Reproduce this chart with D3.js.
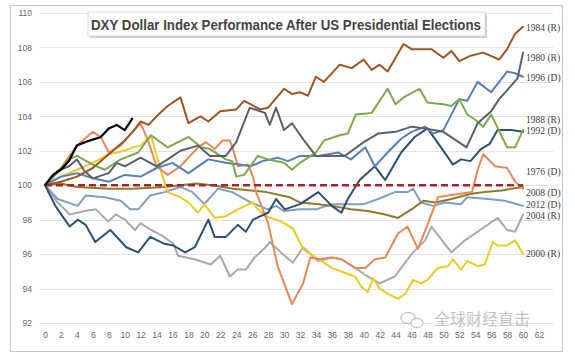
<!DOCTYPE html>
<html><head><meta charset="utf-8">
<script src="https://cdn.jsdelivr.net/npm/d3@7"></script>
<style>body{margin:0;background:#fff;overflow:hidden}</style>
</head><body>
<svg id="c" width="575" height="359"></svg>
<script>
const titleText = "DXY Dollar Index Performance After US Presidential Elections";
const xTicks = [0,2,4,6,8,10,12,14,16,18,20,22,24,26,28,30,32,34,36,38,40,42,44,46,48,50,52,54,56,58,60,62];
const yTicks = [92,94,96,98,100,102,104,106,108,110];
const baseline = 100;

const s1976 = [[0,100],[2,101],[4,102.3],[6,103.1],[7,102.8],[8,101.9],[9.5,102.3],[11,103.1],[12,103.6],[13,102.5],[14,101.1],[15.4,100.6],[17,101.1],[19.2,102.2],[20.2,102.5],[21.3,102.1],[22.3,102.6],[23.2,102.6],[23.6,102.1],[24.2,101.1],[25.5,101.2],[26.1,100.5],[26.5,99.6],[28,97.8],[29.2,95.3],[31,93.1],[32.4,94.3],[33.3,95.8],[34.3,95.7],[36,95.8],[37.2,95.7],[38.9,95.2],[40.2,95.2],[41.4,95.7],[42.7,95.8],[44.3,97.2],[45.5,97.6],[46.8,96.3],[48,97.7],[49.3,99.3],[50.6,99.4],[53.6,99.6],[54.3,100.9],[55,101.8],[56.5,101.1],[58,101],[59,100.2],[60,99.8]];
const s1980 = [[0,100],[1.5,100.8],[3,101.1],[4,101.5],[5,100.8],[6,100.4],[8,100.7],[9,101.3],[10,101.1],[12,101.6],[14,101.1],[15.4,101.5],[17,102],[19.2,102.3],[20.7,101.7],[22.7,101.7],[24,102.5],[25.7,104.5],[27.6,104.2],[28.2,103.5],[29,104.5],[30,103.2],[31,103.6],[32.5,102.6],[34,101.7],[36,101.7],[37.6,101.7],[40,102.5],[41.8,103],[44,103.1],[46,103.4],[47.7,103.3],[50,103.1],[52.9,102.2],[54.3,103.6],[56,104.3],[57,105],[59.3,106.2],[60,107.7]];
const s1984 = [[0,100],[2,100.2],[4,100.5],[6,101],[8,101.8],[10,102.6],[11,103.1],[12,103.7],[13,103.5],[14,104],[15.4,104.6],[17,105.1],[18,103.6],[19.5,104],[20.5,103.7],[22,104.3],[24,104.4],[25,104.9],[27,104.4],[28,104.5],[30,105.6],[31,105.3],[32,105.4],[33,105.2],[34,106.3],[35,106],[37,107],[38.5,106.8],[40,107.3],[41,106.7],[42,107],[43,106.6],[45,108.2],[46,107.9],[48.5,107.9],[50,107.4],[51,107.8],[52,107.2],[53.3,107.5],[55,107.7],[57,107.3],[58,107.9],[59,108.8],[60,109.2]];
const s1988 = [[0,100],[1.3,100.6],[3,101.5],[4,101.7],[6,101.2],[7.5,100.9],[9.5,101.5],[11.7,101.9],[13.3,102.9],[15.4,102.2],[18,102.8],[19.6,102.2],[20.7,102.1],[22.7,101.5],[23.5,101.4],[24,100.5],[25,100.6],[26.7,101.7],[28,101.5],[30,101.3],[31,100.9],[32,101.3],[34,101.9],[35,102.6],[37,102.9],[38,103],[39,104.1],[41,104.2],[43,105.6],[44,104.7],[45,105.1],[47,105.6],[48,104.8],[50,104.7],[51,104.6],[52,105],[53,104.1],[54,103.8],[55,103.4],[56,104.1],[58,102.2],[59,102.2],[60,103.2]];
const s1992 = [[0,100],[1.3,98.8],[3.1,97.6],[4.1,98],[5.1,97.7],[6.3,96.7],[8.2,97.4],[10.2,96.4],[11.7,96.1],[13.2,97],[15,96.6],[16.1,96.5],[17.6,96.1],[18.8,96.4],[20.5,98],[21.3,97],[22.7,97],[24.2,97.7],[25.2,97.3],[26.1,98],[28,98.4],[29,99.2],[30.1,98.6],[32,98.9],[34.3,99.6],[36,98.8],[37.2,98.4],[38,99.2],[39.5,100.3],[41.4,101.1],[42.7,100.3],[44.7,101.9],[46.4,102.8],[48,103.3],[49.7,102.2],[51.2,101.2],[52.2,101.5],[53.4,101.4],[54.7,102.1],[55.8,102.4],[56.8,103.2],[58.5,103.2],[60,103.1]];
const s1996 = [[0,100],[2,100.5],[4,100.7],[6,100.4],[8,100.2],[10,100.6],[12,100.5],[14,101],[16,101.3],[18,100.7],[20.5,101.5],[22.7,101.3],[24.5,101.2],[25.8,101.1],[27.3,101.4],[29.2,101.6],[30.5,101.4],[32,101.7],[34.3,101.7],[36.8,101.9],[38.4,101.5],[40.2,102.2],[41.4,101.1],[43,101.9],[44.7,102.7],[46,103.1],[47.7,103.4],[48.7,103],[50,103.2],[52,105],[53,104.9],[54.3,106],[56,105.4],[58,106.6],[59,106.5],[60,106.3]];
const s2000 = [[0,100],[2,100.5],[4,100.9],[6,101.3],[8,101.8],[10,102],[11,102.2],[12,102.3],[13.3,102.9],[14.5,100.9],[15.4,99.6],[17,99.3],[18,99],[19.2,98.4],[20,98.9],[21.3,98.1],[22.7,98.2],[24.2,98.6],[26.1,99],[26.7,98.6],[27.7,98.2],[29.6,97.9],[31.1,97.5],[32.4,96.3],[33,96.1],[34.3,95.7],[36,95.2],[37.7,94.9],[38.9,94.7],[39.7,94.1],[40.5,93.8],[41.2,94.6],[42,94],[43,93.7],[44.3,93.4],[45.2,93.7],[46.2,94.5],[47.2,94.3],[48,94.5],[49.3,95.2],[50.6,95.3],[51.2,95.7],[52.2,95.1],[53,95.6],[54.3,95.3],[55.2,95.4],[56.2,96.7],[56.8,96.5],[58,96.5],[59,96.8],[60,96]];
const s2004 = [[0,100],[1.4,99.1],[3.1,98.3],[5,98.5],[6.4,98.6],[7.9,97.9],[8.9,98.3],[10,98],[11.3,97.4],[12,97.8],[13.3,97.4],[14.6,97.1],[16.1,96.6],[16.7,95.9],[18.8,95.7],[20.8,95.4],[22,95.9],[23.2,94.7],[24.2,95.1],[25.2,95.1],[26.3,95.8],[27.7,96.4],[28.2,96.7],[29.6,96.1],[31.1,95.5],[32.4,96.4],[34.3,95.6],[36,95.8],[37.2,95.7],[38.9,95.2],[40.2,94.8],[42,94.3],[43.9,94.7],[45.2,95.5],[46.2,96.1],[47.7,96.8],[48.5,97.6],[51,96.1],[52.7,96.8],[54.3,97.3],[56.8,98.1],[58,97.4],[59,97.3],[60,98.3]];
const s2008 = [[0,100],[2,100.1],[4,99.9],[8,99.8],[11,99.8],[15,99.9],[19,100.1],[21,100],[23.6,99.8],[27.8,99.6],[30.7,99.3],[32,99],[34.3,98.9],[36,98.8],[38.4,98.6],[40.5,98.5],[42.7,98.3],[44.3,98.1],[46,98.6],[47.5,99.1],[49,99],[51,99.2],[53.5,99.5],[55.2,99.6],[57.3,99.7],[60,99.9]];
const s2012 = [[0,100],[1.6,99.2],[4.1,98.8],[5.1,99.4],[7.5,99.3],[9.5,99.1],[10.7,98.6],[11.7,98.6],[13.2,99.4],[15,99.6],[17,99.9],[18.5,99.6],[20,98.9],[21.7,99.8],[23.5,99.6],[25.8,99],[28,98.6],[29,98.8],[30,98.5],[32,98.6],[34,98.6],[36,98.9],[38,98.9],[40,98.9],[41.8,99.2],[43.9,99.6],[45.5,99.6],[46.2,99.8],[47.2,99],[48.7,98.8],[50.2,99],[52.2,98.9],[53,99.3],[55.6,99.2],[57.7,99.1],[60,98.8]];
const s2016 = [[0,100],[1,100.6],[2,100.9],[3,101.4],[4,102.3],[5,102.5],[7,102.8],[8,103.3],[9,103.5],[10,103.2],[11,103.9]];

const seriesNames = ["2004 (R)","2012 (D)","2008 (D)","2000 (R)","1976 (D)","1992 (D)","1996 (D)","1988 (R)","1980 (R)","1984 (R)","2016"];
const seriesData  = [s2004, s2012, s2008, s2000, s1976, s1992, s1996, s1988, s1980, s1984, s2016];
const seriesColors = ["#a9a9a9","#7f9fc2","#8d7b2e","#ecca2a","#e48a58","#2d5074","#5a7fb0","#7ea84e","#58626c","#9a5726","#000000"];
// value at which each end label sits (label order matches names)
const labelNames = ["1984 (R)","1980 (R)","1996 (D)","1988 (R)","1992 (D)","1976 (D)","2008 (D)","2012 (D)","2004 (R)","2000 (R)"];
const labelValues = [109.17,107.42,106.26,103.8,103.18,100.8,99.58,98.88,98.24,96.03];

const svg = d3.select("#c");
const x = d3.scaleLinear().domain([0,62]).range([45,539]);
const y = d3.scaleLinear().domain([92,110]).range([323,13]);

// outer border
svg.append("rect").attr("x",10.5).attr("y",5.5).attr("width",552).attr("height",346)
  .attr("fill","#fff").attr("stroke","#c4c4c4").attr("stroke-width",1);

// gridlines
svg.append("g").selectAll("line").data(yTicks).join("line")
  .attr("x1",x(-0.6)).attr("x2",x(63.8))
  .attr("y1",d=>Math.round(y(d))+0.5).attr("y2",d=>Math.round(y(d))+0.5)
  .attr("stroke","#e3e3e3").attr("stroke-width",1);

// axes
const yAxis = svg.append("g").attr("transform","translate(40,0)")
  .call(d3.axisLeft(y).tickValues(yTicks).tickSize(0).tickPadding(8));
yAxis.select(".domain").remove();
yAxis.selectAll("text").attr("fill","#666").style("font-family","Liberation Sans, Arial, sans-serif").style("font-size","8.5px");

const xAxis = svg.append("g").attr("transform","translate(0,324)")
  .call(d3.axisBottom(x).tickValues(xTicks).tickSize(0).tickPadding(8));
xAxis.select(".domain").remove();
xAxis.selectAll("text").attr("fill","#666").style("font-family","Liberation Sans, Arial, sans-serif").style("font-size","8.5px");

// lines
const line = d3.line().x(d=>x(d[0])).y(d=>y(d[1]));
const gl = svg.append("g");
seriesData.forEach((s,i)=>{
  if (i===seriesData.length-1) return;
  gl.append("path").datum(s).attr("d",line).attr("fill","none")
    .attr("stroke",seriesColors[i]).attr("stroke-width",2).attr("stroke-linejoin","round").attr("stroke-linecap","round");
});
// baseline
svg.append("line").attr("x1",x(0)).attr("x2",x(60)).attr("y1",y(baseline)).attr("y2",y(baseline))
  .attr("stroke","#a8232a").attr("stroke-width",2.4).attr("stroke-dasharray","7,4");
// 2016 on top
svg.append("path").datum(s2016).attr("d",line).attr("fill","none")
  .attr("stroke","#000").attr("stroke-width",2.2).attr("stroke-linejoin","round");

// end labels
svg.append("g").selectAll("text").data(labelNames).join("text")
  .attr("x",526).attr("y",(d,i)=>y(labelValues[i])).attr("dy","0.35em")
  .attr("fill","#404040").style("font-family","Liberation Serif, serif").style("font-size","9.5px")
  .text(d=>d);

// title box
svg.append("rect").attr("x",90).attr("y",14).attr("width",397).attr("height",24).attr("fill","#cfcfcf");
svg.append("rect").attr("x",88).attr("y",12).attr("width",397).attr("height",24).attr("fill","#fff").attr("stroke","#dadada");
svg.append("text").attr("x",286).attr("y",29.5).attr("text-anchor","middle")
  .attr("fill","#444").style("font-family","Liberation Sans, Arial, sans-serif").style("font-weight","bold").style("font-size","14px")
  .attr("textLength",390).attr("lengthAdjust","spacingAndGlyphs").text(titleText);

// watermark
const wm = svg.append("g").attr("opacity",0.75);
wm.append("ellipse").attr("cx",408).attr("cy",318).attr("rx",7).attr("ry",5.5).attr("fill","none").attr("stroke","#b5b5b5").attr("stroke-width",1.3);
wm.append("ellipse").attr("cx",417).attr("cy",323).attr("rx",6).attr("ry",4.5).attr("fill","#fff").attr("stroke","#b5b5b5").attr("stroke-width",1.3);
wm.append("text").attr("x",434).attr("y",325).attr("fill","#b0b0b0")
  .style("font-family","Noto Sans CJK SC, sans-serif").style("font-size","16px").text("全球财经直击");
</script>
</body></html>
